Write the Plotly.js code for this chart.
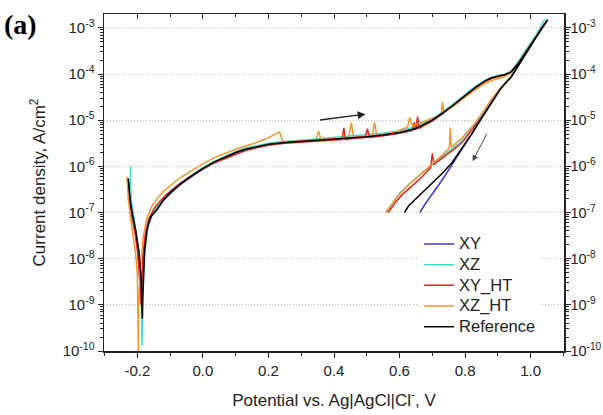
<!DOCTYPE html>
<html><head><meta charset="utf-8">
<script src="https://cdn.plot.ly/plotly-3.0.1.min.js"></script>
<style>html,body{margin:0;padding:0;background:#fff}#chart{width:603px;height:415px}</style>
</head><body><div id="chart"></div>
<script>
// ---- data (potential V vs Ag|AgCl|Cl-, current density A/cm2) ----
const seriesNames = ['XY', 'XZ', 'XY_HT', 'XZ_HT', 'Reference'];

const XY_V = [-0.226,-0.224,-0.22,-0.213,-0.204,-0.196,-0.191,-0.188,-0.186,-0.184,-0.181,-0.176,-0.168,-0.155,-0.14,-0.12,-0.1,-0.08,-0.06,-0.03,0,0.035,0.07,0.1,0.13,0.17,0.2,0.25,0.3,0.35,0.4,0.45,0.5,0.55,0.6,0.65,0.7,0.73,0.76,0.8,0.83,0.86,0.88,0.9,0.92,0.94,0.96,0.98,1.0,1.02,1.04,1.05,
  1.03,1.0,0.97,0.94,0.91,0.88,0.85,0.82,0.79,0.76,0.74,0.72,0.70,0.685,0.672,0.662];
const XY_I = [4.5e-7,3e-7,1.6e-7,8e-8,3.5e-8,1.3e-8,5e-9,2.5e-9,2e-9,4e-9,1.2e-8,2.5e-8,5e-8,9e-8,1.15e-7,1.85e-7,2.6e-7,3.5e-7,4.5e-7,6.4e-7,8.8e-7,1.22e-6,1.58e-6,1.95e-6,2.3e-6,2.7e-6,2.95e-6,3.25e-6,3.45e-6,3.6e-6,3.8e-6,4e-6,4.3e-6,4.7e-6,5.3e-6,6.5e-6,1e-5,1.4e-5,2e-5,3.4e-5,5e-5,7e-5,8.2e-5,9e-5,9.6e-5,1.1e-4,1.6e-4,2.6e-4,4.2e-4,6.8e-4,1.1e-3,1.4e-3,
  8.8e-4,4e-4,1.8e-4,8.5e-5,5e-5,2.4e-5,1.1e-5,5e-6,2.3e-6,1.05e-6,6.5e-7,4e-7,2.6e-7,1.8e-7,1.3e-7,1e-7];

const XZ_V = [-0.221,-0.222,-0.219,-0.212,-0.202,-0.194,-0.189,-0.187,-0.186,-0.184,-0.181,-0.176,-0.168,-0.158,-0.14,-0.12,-0.1,-0.08,-0.06,-0.03,0,0.035,0.07,0.1,0.13,0.17,0.2,0.25,0.3,0.35,0.4,0.45,0.5,0.55,0.6,0.65,0.7,0.73,0.76,0.8,0.83,0.86,0.88,0.9,0.92,0.94,0.96,0.98,1.0,1.02,1.043,
  1.02,1.0,0.97,0.94,0.91,0.88,0.85,0.82,0.80,0.78,0.75,0.72,0.69,0.66,0.63,0.60,0.58,0.567,0.56];
const XZ_I = [1e-6,4.5e-7,2e-7,9e-8,3.5e-8,1.2e-8,3e-9,8e-10,1.3e-10,1e-9,5e-9,1.8e-8,5e-8,9e-8,1.3e-7,2e-7,2.8e-7,3.8e-7,4.8e-7,6.8e-7,9.5e-7,1.3e-6,1.7e-6,2.1e-6,2.5e-6,2.9e-6,3.15e-6,3.45e-6,3.7e-6,3.9e-6,4.1e-6,4.4e-6,4.75e-6,5.2e-6,5.9e-6,7.2e-6,1.1e-5,1.5e-5,2.15e-5,3.6e-5,5.3e-5,7.3e-5,8.5e-5,9.2e-5,9.8e-5,1.15e-4,1.75e-4,2.9e-4,4.7e-4,7.6e-4,1.5e-3,
  7e-4,4.4e-4,1.9e-4,8.8e-5,5e-5,2.5e-5,1.2e-5,6.5e-6,4.3e-6,3.1e-6,2.1e-6,1.45e-6,9.7e-7,6.4e-7,4.2e-7,2.6e-7,1.65e-7,1.2e-7,1e-7];

const XYHT_V = [-0.23,-0.228,-0.224,-0.217,-0.207,-0.199,-0.194,-0.191,-0.189,-0.187,-0.183,-0.176,-0.166,-0.15,-0.13,-0.11,-0.09,-0.07,-0.04,-0.01,0.03,0.07,0.1,0.13,0.17,0.2,0.25,0.3,0.35,0.4,0.425,0.43,0.435,0.45,0.495,0.502,0.508,0.55,0.6,0.64,0.645,0.65,0.655,0.66,0.665,0.7,0.73,0.76,0.8,0.83,0.86,0.88,0.9,0.92,0.94,0.96,0.98,1.0,1.02,1.04,1.05,
  1.03,1.0,0.97,0.94,0.91,0.88,0.85,0.82,0.80,0.78,0.75,0.72,0.705,0.70,0.695,0.67,0.64,0.61,0.59,0.575,0.565];
const XYHT_I = [5e-7,3.2e-7,1.6e-7,8e-8,3.5e-8,1.3e-8,5e-9,2e-9,1e-9,3e-9,1.2e-8,3.5e-8,7e-8,1.2e-7,1.8e-7,2.5e-7,3.3e-7,4.3e-7,6e-7,8e-7,1.15e-6,1.5e-6,1.85e-6,2.2e-6,2.6e-6,2.85e-6,3.15e-6,3.35e-6,3.5e-6,3.7e-6,3.8e-6,6.8e-6,3.8e-6,3.95e-6,4.2e-6,6.5e-6,4.25e-6,4.6e-6,5.2e-6,6e-6,9e-6,6.2e-6,1.2e-5,6.7e-6,7e-6,9.5e-6,1.35e-5,1.95e-5,3.3e-5,4.9e-5,6.8e-5,8e-5,8.8e-5,9.5e-5,1.1e-4,1.6e-4,2.6e-4,4.2e-4,6.8e-4,1.1e-3,1.4e-3,
  8.8e-4,4e-4,1.8e-4,8.5e-5,5e-5,2.4e-5,1.15e-5,6e-6,3.9e-6,2.8e-6,1.9e-6,1.3e-6,1.1e-6,1.9e-6,9.5e-7,6e-7,3.9e-7,2.5e-7,1.75e-7,1.25e-7,1e-7];

const XZHT_V = [-0.232,-0.231,-0.228,-0.222,-0.213,-0.205,-0.2,-0.198,-0.197,-0.196,-0.19,-0.182,-0.172,-0.158,-0.14,-0.12,-0.1,-0.08,-0.06,-0.03,0,0.035,0.07,0.1,0.13,0.16,0.19,0.21,0.234,0.243,0.25,0.3,0.345,0.353,0.36,0.4,0.445,0.453,0.46,0.5,0.517,0.524,0.53,0.57,0.6,0.625,0.631,0.64,0.68,0.72,0.728,0.731,0.735,0.76,0.8,0.83,0.86,0.88,0.9,0.92,0.94,0.96,0.98,1.0,1.02,1.04,1.05,
  1.03,1.0,0.97,0.94,0.91,0.88,0.85,0.82,0.79,0.765,0.758,0.755,0.752,0.73,0.71,0.69,0.66,0.63,0.60,0.58,0.565,0.557];
const XZHT_I = [6e-7,3.8e-7,2e-7,9e-8,3.5e-8,1.2e-8,4e-9,1e-9,1e-10,1e-9,8e-9,3e-8,7e-8,1.3e-7,2e-7,2.9e-7,3.9e-7,5e-7,6.2e-7,8.5e-7,1.15e-6,1.55e-6,1.95e-6,2.35e-6,2.75e-6,3.2e-6,3.9e-6,4.5e-6,5.5e-6,3.6e-6,3.4e-6,3.6e-6,3.75e-6,5.8e-6,3.8e-6,4e-6,4.2e-6,8.7e-6,4.3e-6,4.5e-6,4.6e-6,9e-6,4.7e-6,5.2e-6,6e-6,7.2e-6,1.15e-5,7.5e-6,9.5e-6,1.25e-5,1.4e-5,2.5e-5,1.5e-5,1.9e-5,3.1e-5,4.5e-5,6.2e-5,7.2e-5,7.9e-5,8.7e-5,1.05e-4,1.6e-4,2.6e-4,4.2e-4,6.8e-4,1.1e-3,1.4e-3,
  8.8e-4,4e-4,1.8e-4,8.5e-5,5.2e-5,2.8e-5,1.35e-5,7e-6,4.1e-6,2.8e-6,2.6e-6,6.8e-6,2.5e-6,1.75e-6,1.3e-6,1e-6,6.5e-7,4.1e-7,2.5e-7,1.6e-7,1.15e-7,1e-7];

const REF_V = [-0.228,-0.226,-0.222,-0.215,-0.205,-0.196,-0.19,-0.187,-0.185,-0.184,-0.182,-0.178,-0.17,-0.16,-0.143,-0.12,-0.1,-0.08,-0.06,-0.03,0,0.035,0.07,0.1,0.13,0.17,0.2,0.25,0.3,0.35,0.4,0.45,0.5,0.55,0.6,0.65,0.7,0.73,0.76,0.8,0.83,0.86,0.88,0.9,0.92,0.94,0.96,0.98,1.0,1.02,1.04,1.052,
  1.03,1.0,0.97,0.94,0.91,0.88,0.85,0.82,0.79,0.76,0.73,0.70,0.67,0.645,0.628,0.615];
const REF_I = [5.5e-7,3.5e-7,1.8e-7,9e-8,4e-8,1.5e-8,5e-9,1.5e-9,5e-10,1.2e-9,4e-9,1.5e-8,4.5e-8,8e-8,1.1e-7,1.9e-7,2.7e-7,3.6e-7,4.6e-7,6.5e-7,9e-7,1.25e-6,1.6e-6,2e-6,2.35e-6,2.75e-6,3.0e-6,3.3e-6,3.5e-6,3.65e-6,3.85e-6,4.05e-6,4.35e-6,4.75e-6,5.4e-6,6.6e-6,1e-5,1.4e-5,2e-5,3.4e-5,5e-5,7e-5,8.2e-5,9e-5,9.6e-5,1.1e-4,1.6e-4,2.6e-4,4.2e-4,6.8e-4,1.1e-3,1.5e-3,
  9e-4,4e-4,1.8e-4,8.5e-5,5e-5,2.4e-5,1.1e-5,5e-6,2.4e-6,1.2e-6,7e-7,4.4e-7,2.8e-7,1.9e-7,1.4e-7,1e-7];

const xTickVals = [-0.2, 0.0, 0.2, 0.4, 0.6, 0.8, 1.0];
const xTickText = ['-0.2', '0.0', '0.2', '0.4', '0.6', '0.8', '1.0'];
const yExp = [-10, -9, -8, -7, -6, -5, -4, -3];

// ---- styling ----
const colors = ['#3b3bd0', '#38e0d8', '#e8231c', '#f0962e', '#000000'];
const allV = [XY_V, XZ_V, XYHT_V, XZHT_V, REF_V];
const allI = [XY_I, XZ_I, XYHT_I, XZHT_I, REF_I];
const yTickVals = yExp.map(e => Math.pow(10, e));
const yTickText = yExp.map(e => '10<sup>' + e + '</sup>');
const yMinorVals = [];
yExp.forEach(e => { for (let k = 2; k <= 9; k++) yMinorVals.push(k * Math.pow(10, e)); });

// Reference drawn on the twin axes (same ranges) so the top and right frame axes render.
const traces = seriesNames.map((n, k) => ({
  x: allV[k], y: allI[k], name: '<span style="font-size:16.5px">' + n + '</span>',
  type: 'scatter', mode: 'lines',
  line: {color: colors[k], width: 1.5},
  xaxis: k === 4 ? 'x2' : 'x', yaxis: k === 4 ? 'y2' : 'y'
}));

const fam = 'Arial, Liberation Sans, sans-serif';
const fnt = s => ({family: fam, size: s, color: '#222'});
const yrange = [-10, -2.70];
const xrange = [-0.302, 1.102];
const minorLog = {ticks: 'outside', ticklen: 3, tickcolor: '#222', tickvals: yMinorVals, showgrid: false};

const layout = {
  width: 603, height: 415,
  margin: {l: 104, r: 39, t: 14, b: 64},
  paper_bgcolor: '#fff', plot_bgcolor: '#fff',
  font: fnt(15),
  showlegend: true,
  legend: {x: 0.685, y: 0.363, xanchor: 'left', yanchor: 'top', bgcolor: 'rgba(255,255,255,1)',
    borderwidth: 0, font: fnt(13.6), tracegroupgap: 0},
  xaxis: {range: xrange, tickvals: xTickVals, ticktext: xTickText, ticks: 'outside', ticklen: 5,
    tickcolor: '#222', linecolor: '#222', linewidth: 1.5, showline: true, showgrid: false, zeroline: false,
    tickfont: fnt(15),
    minor: {ticks: 'outside', ticklen: 3, dtick: 0.1, tick0: 0, tickcolor: '#222'},
    title: {text: 'Potential vs. Ag|AgCl|Cl<sup>-</sup>, V', font: fnt(17), standoff: 16}},
  xaxis2: {range: xrange, overlaying: 'x', side: 'top', anchor: 'y', tickvals: xTickVals, showticklabels: false,
    ticks: 'inside', ticklen: 5, tickcolor: '#222', linecolor: '#222', linewidth: 1.5, showline: true,
    showgrid: false, zeroline: false, minor: {ticks: 'inside', ticklen: 3, dtick: 0.1, tick0: 0, tickcolor: '#222'}},
  yaxis: {type: 'log', range: yrange, tickvals: yTickVals, ticktext: yTickText, ticks: 'outside', ticklen: 5,
    tickcolor: '#222', linecolor: '#222', linewidth: 1.5, showline: true, showgrid: true,
    gridcolor: '#bdbdbd', griddash: '1px,2px', gridwidth: 1, zeroline: false,
    tickfont: fnt(15), minor: minorLog,
    title: {text: 'Current density, A/cm<sup>2</sup>', font: fnt(17), standoff: 12}},
  yaxis2: {type: 'log', range: yrange, overlaying: 'y', side: 'right', anchor: 'x', tickvals: yTickVals,
    ticktext: yTickText, ticks: 'outside', ticklen: 5, tickcolor: '#222', linecolor: '#222', linewidth: 1.5,
    showline: true, showgrid: false, zeroline: false, tickfont: fnt(14.5), ticklabelstandoff: -3, minor: minorLog},
  annotations: [
    {xref: 'paper', yref: 'paper', x: -0.222, y: 1.02, xanchor: 'left', yanchor: 'top', showarrow: false,
     text: '<b>(a)</b>', font: {family: 'Liberation Serif, Times New Roman, serif', size: 28, color: '#000'}},
    {xref: 'x', yref: 'y', axref: 'x', ayref: 'y', x: 0.496, y: -4.87, ax: 0.353, ay: -5.0,
     text: '', showarrow: true, arrowhead: 2, arrowsize: 1.2, arrowwidth: 1.3, arrowcolor: '#222'},
    {xref: 'x', yref: 'y', axref: 'x', ayref: 'y', x: 0.823, y: -5.89, ax: 0.869, ay: -5.26,
     text: '', showarrow: true, arrowhead: 2, arrowsize: 1.2, arrowwidth: 1, arrowcolor: '#444'}
  ]
};

Plotly.newPlot('chart', traces, layout, {displayModeBar: false, staticPlot: true});
</script></body></html>
